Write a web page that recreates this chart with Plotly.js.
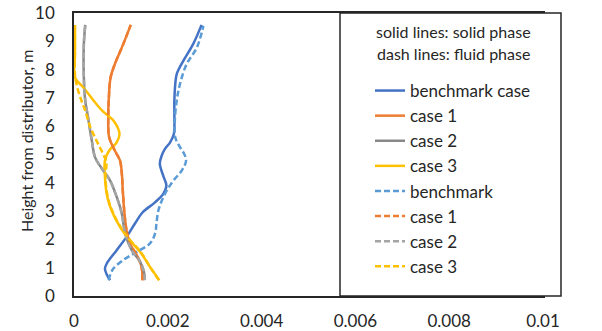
<!DOCTYPE html>
<html>
<head>
<meta charset="utf-8">
<script src="https://cdn.plot.ly/plotly-3.0.1.min.js"></script>
<style>html,body{margin:0;padding:0;background:#fff;}#chart{width:602px;height:331px;}</style>
</head>
<body>
<div id="chart"></div>
<script>
// Benchmark case, solid phase
const benchSolidH = [0.56, 0.75, 0.97, 1.15, 1.62, 2.09, 2.56, 2.95, 3.3, 3.6, 3.9, 4.26, 4.67, 4.96, 5.2, 5.43, 5.73, 6.3, 6.9, 7.5, 7.84, 8.31, 8.9, 9.58];
const benchSolidV = [0.00077, 0.00070, 0.00066, 0.00070, 0.00091, 0.00112, 0.00130, 0.00146, 0.00172, 0.00190, 0.00197, 0.00190, 0.00183, 0.00187, 0.00194, 0.00205, 0.00213, 0.00214, 0.00214, 0.00216, 0.00219, 0.00233, 0.00254, 0.00272];
// Case 1, solid phase
const case1SolidH = [0.56, 1.03, 1.44, 1.86, 2.32, 3.03, 3.73, 4.32, 4.79, 5.14, 5.61, 6.31, 6.9, 7.72, 8.19, 8.9, 9.58];
const case1SolidV = [0.00146, 0.00144, 0.00134, 0.00119, 0.00112, 0.00107, 0.00104, 0.00102, 0.00098, 0.00087, 0.00075, 0.00073, 0.00074, 0.00078, 0.00087, 0.00105, 0.00121];
// Case 2, solid phase
const case2SolidH = [0.56, 0.86, 1.21, 1.62, 2.21, 2.91, 3.5, 4.08, 4.44, 4.9, 5.49, 6.31, 6.9, 7.72, 8.9, 9.58];
const case2SolidV = [0.00151, 0.00149, 0.00141, 0.00123, 0.00109, 0.00102, 0.00091, 0.00077, 0.00062, 0.00045, 0.00038, 0.00030, 0.00024, 0.00021, 0.00021, 0.00024];
// Case 3, solid phase
const case3SolidH = [0.56, 1.03, 1.56, 1.97, 2.44, 3.03, 3.5, 4.2, 4.79, 5.14, 5.43, 5.73, 6.2, 6.55, 6.9, 7.37, 7.72, 8.5, 9.58];
const case3SolidV = [0.00182, 0.00162, 0.00141, 0.00119, 0.00098, 0.00080, 0.00071, 0.00066, 0.00066, 0.00075, 0.00091, 0.00097, 0.00084, 0.00060, 0.00042, 0.00020, 0.00002, 0.00002, 0.00002];
// Benchmark, fluid phase
const benchFluidH = [0.56, 0.74, 0.97, 1.27, 1.56, 1.86, 2.21, 2.6, 3.03, 3.4, 3.73, 4.08, 4.44, 4.79, 5.05, 5.26, 5.6, 6.2, 6.9, 7.49, 8.19, 8.78, 9.55];
const benchFluidV = [0.00074, 0.00077, 0.00084, 0.00105, 0.00134, 0.00162, 0.00173, 0.00176, 0.00180, 0.00188, 0.00198, 0.00212, 0.00230, 0.00239, 0.00234, 0.00226, 0.00216, 0.00215, 0.00219, 0.00226, 0.00240, 0.00262, 0.00276];
// Case 1, fluid phase
const case1FluidH = [0.56, 1.03, 1.44, 1.86, 2.32, 3.03, 3.73, 4.32, 4.79, 5.14, 5.61, 6.31, 6.9, 7.72, 8.19, 8.9, 9.58];
const case1FluidV = [0.00146, 0.00144, 0.00134, 0.00119, 0.00112, 0.00107, 0.00104, 0.00102, 0.00098, 0.00087, 0.00075, 0.00073, 0.00074, 0.00078, 0.00087, 0.00105, 0.00121];
// Case 2, fluid phase
const case2FluidH = [0.56, 0.86, 1.21, 1.62, 2.21, 2.91, 3.5, 4.08, 4.44, 4.9, 5.49, 6.31, 6.9, 7.72, 8.9, 9.58];
const case2FluidV = [0.00151, 0.00149, 0.00141, 0.00123, 0.00109, 0.00102, 0.00091, 0.00077, 0.00062, 0.00045, 0.00038, 0.00030, 0.00024, 0.00021, 0.00021, 0.00024];
// Case 3, fluid phase
const case3FluidH = [0.56, 1.03, 1.56, 1.97, 2.44, 3.03, 3.5, 4.2, 4.73, 5.02, 5.49, 6.0, 6.55, 6.9, 7.37, 7.84, 8.7, 9.58];
const case3FluidV = [0.00181, 0.00162, 0.00142, 0.00120, 0.00099, 0.00081, 0.00072, 0.00067, 0.00069, 0.00062, 0.00048, 0.00034, 0.00024, 0.00016, 0.00007, 0.00002, 0.00002, 0.00002];

const seriesNames = ["benchmark case", "case 1", "case 2", "case 3", "benchmark", "case 1", "case 2", "case 3"];
const legendTitleLines = ["solid lines: solid phase", "dash lines: fluid phase"];
const yAxisTitle = "Height from distributor, m";

const FONT = "Lato, 'Open Sans', sans-serif";
const TXT = "#262626";

const defs = [
  [benchSolidV, benchSolidH, "#4472C4", "solid"],
  [case1SolidV, case1SolidH, "#ED7D31", "solid"],
  [case2SolidV, case2SolidH, "#888888", "solid"],
  [case3SolidV, case3SolidH, "#FFC000", "solid"],
  [benchFluidV, benchFluidH, "#5B9BD5", "6px,3px"],
  [case1FluidV, case1FluidH, "#ED7D31", "6px,3px"],
  [case2FluidV, case2FluidH, "#A5A5A5", "6px,3px"],
  [case3FluidV, case3FluidH, "#FFC000", "6px,3px"]
];

const traces = defs.map((d, i) => ({
  type: "scatter",
  mode: "lines",
  x: d[0],
  y: d[1],
  name: seriesNames[i],
  line: {color: d[2], width: 2.5, dash: d[3], shape: "spline", smoothing: 1},
  hoverinfo: "skip"
}));

const L = 74, T = 13, W = 469, H = 283;
const px2x = p => (p - L) / W;
const px2y = p => (T + H - p) / H;

const layout = {
  width: 602, height: 331,
  margin: {l: L, r: 602 - L - W, t: T, b: 331 - T - H, pad: 0},
  paper_bgcolor: "#fff", plot_bgcolor: "#fff",
  font: {family: FONT, size: 17, color: TXT},
  showlegend: true,
  xaxis: {
    range: [0, 0.01], dtick: 0.002, tick0: 0,
    showgrid: false, zeroline: false,
    showline: true, mirror: true, linecolor: "#262626", linewidth: 1.8,
    ticks: "", ticklabelstandoff: 9,
    tickfont: {family: FONT, size: 17, color: TXT}
  },
  yaxis: {
    range: [0, 10], dtick: 1, tick0: 0,
    showgrid: false, zeroline: false,
    showline: true, mirror: true, linecolor: "#262626", linewidth: 1.8,
    ticks: "", ticklabelstandoff: 14,
    tickfont: {family: FONT, size: 17, color: TXT}
  },
  legend: {
    x: px2x(370), y: px2y(73), xanchor: "left", yanchor: "top",
    bgcolor: "rgba(0,0,0,0)", borderwidth: 0,
    font: {family: FONT, size: 17, color: TXT},
    tracegroupgap: 0
  },
  shapes: [{
    type: "rect", xref: "paper", yref: "paper", layer: "above",
    x0: px2x(340), x1: px2x(561), y0: 0, y1: 1,
    fillcolor: "#fff", line: {color: "#262626", width: 1.5}
  }],
  annotations: [
    {xref: "paper", yref: "paper", x: px2x(453), y: px2y(31), text: legendTitleLines[0],
     showarrow: false, xanchor: "center", yanchor: "middle", font: {family: FONT, size: 16, color: TXT}},
    {xref: "paper", yref: "paper", x: px2x(453), y: px2y(53), text: legendTitleLines[1],
     showarrow: false, xanchor: "center", yanchor: "middle", font: {family: FONT, size: 16, color: TXT}},
    {xref: "paper", yref: "paper", x: px2x(26), y: px2y(141), text: yAxisTitle, textangle: -90,
     showarrow: false, xanchor: "center", yanchor: "middle", font: {family: FONT, size: 16, color: TXT}}
  ]
};

Plotly.newPlot("chart", traces, layout, {displayModeBar: false, staticPlot: true});
</script>
</body>
</html>
